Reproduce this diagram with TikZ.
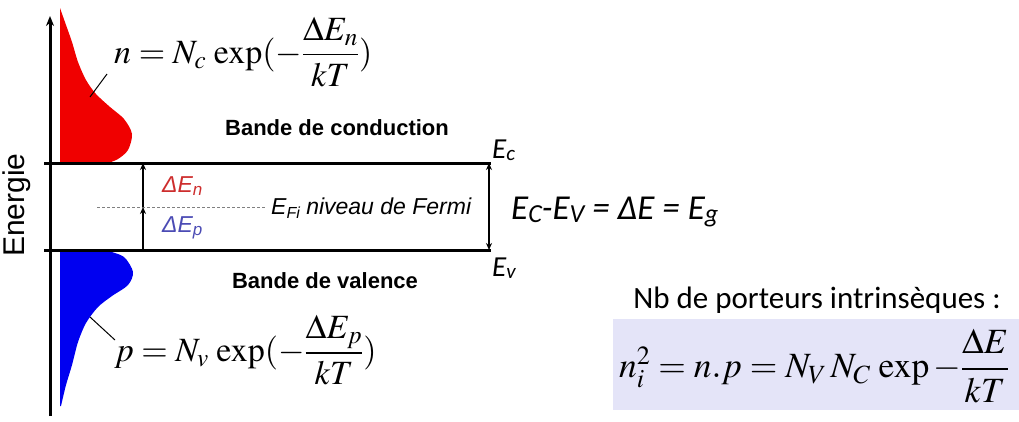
\documentclass[tikz,border=0pt]{standalone}
\usepackage{amsmath}
\usepackage{mathptmx}
\usepackage{fontspec}
\setmainfont{Liberation Serif}
\newfontfamily\arialf{Liberation Sans}
\newfontfamily\calibrif{Carlito}
\usetikzlibrary{arrows.meta}
\definecolor{redfill}{RGB}{240,0,0}
\definecolor{bluefill}{RGB}{0,0,240}
\definecolor{boxfill}{RGB}{228,228,248}
\definecolor{dered}{RGB}{205,45,45}
\definecolor{deblue}{RGB}{75,75,180}
\begin{document}
\begin{tikzpicture}[x=1pt,y=-1pt,
  thickline/.style={line width=3pt},
  arr/.style={line width=2pt,-{Stealth[length=7pt,width=6pt]}},
  darr/.style={line width=2pt,{Stealth[length=7pt,width=6pt]}-{Stealth[length=7pt,width=6pt]}},
  bandlbl/.style={font=\arialf\bfseries\fontsize{22}{26}\selectfont, inner sep=0pt},
  sanslbl/.style={font=\arialf\itshape\fontsize{23}{27}\selectfont, inner sep=0pt},
  callbl/.style={font=\calibrif\itshape\fontsize{29}{34}\selectfont, inner sep=0pt},
  eq/.style={font=\fontsize{34}{40}\selectfont, inner sep=0pt},
  pointer/.style={line width=1pt}]
\useasboundingbox (0,0) rectangle (1019,421);
% lavender box
\fill[boxfill] (613,319) rectangle (1019,410);
% distributions
\fill[redfill] plot[smooth] coordinates {(60,8) (66,25) (72,42) (78,62) (86,80) (96,94) (110,107) (124,119) (132,134) (128,150) (118,159) (108,163)} -- (60,163) -- cycle;
\fill[bluefill] plot[smooth] coordinates {(108,251) (124,257) (133,272) (128,285) (112,296) (98,307) (86,323) (78,342) (72,365) (66,385) (61,406)} -- (60,406) -- (60,251) -- cycle;
% axis
\coordinate (axb) at (50,416);
\coordinate (axt) at (50,16);
\draw[line width=3pt,-{Stealth[length=10pt,width=8pt]}] (axb) -- (axt);
% band edges
\coordinate (ecl) at (44,163); \coordinate (ecr) at (491,163);
\coordinate (evl) at (44,250); \coordinate (evr) at (491,250);
\draw[thickline] (ecl) -- (ecr);
\draw[thickline] (evl) -- (evr);
% Fermi level
\coordinate (fl) at (97,207); \coordinate (fr) at (266,207);
\draw[gray, line width=0.8pt, dash pattern=on 3pt off 2pt] (fl) -- (fr);
% small arrows
\coordinate (av) at (143,250); \coordinate (af) at (143,207); \coordinate (ac) at (143,163);
\draw[arr] (av) -- (af);
\draw[arr] (af) -- (ac);
% gap arrow
\coordinate (gt) at (489,163); \coordinate (gb) at (489,250);
\draw[darr] (gb) -- (gt);
% pointers
\coordinate (p1a) at (90,97); \coordinate (p1b) at (107,74);
\draw[pointer] (p1a) -- (p1b);
\coordinate (p2a) at (90,317); \coordinate (p2b) at (115,340);
\draw[pointer] (p2a) -- (p2b);
% labels
\node[rotate=90, font=\arialf\fontsize{30}{34}\selectfont, inner sep=0pt] (energie) at (17,205) {Energie};
\node[bandlbl] (bc) at (337,128) {Bande de conduction};
\node[bandlbl] (bv) at (325,281) {Bande de valence};
\node[sanslbl, text=dered, anchor=west] (den) at (162,186) {ΔE\raisebox{-3pt}{\fontsize{17}{20}\selectfont n}};
\node[sanslbl, text=deblue, anchor=west] (dep) at (162,228) {ΔE\raisebox{-3pt}{\fontsize{17}{20}\selectfont p}};
\node[sanslbl, anchor=west] (efi) at (271,208) {E\raisebox{-4pt}{\fontsize{16}{18}\selectfont Fi} niveau de Fermi};
\node[callbl, anchor=west] (ec) at (492,150) {E\raisebox{-2pt}{\fontsize{21}{24}\selectfont c}};
\node[callbl, anchor=west] (ev) at (492,268) {E\raisebox{-2pt}{\fontsize{21}{24}\selectfont v}};
\node[font=\calibrif\itshape\fontsize{35}{40}\selectfont, inner sep=0pt, anchor=west] (eg) at (511,212) {E\raisebox{-3pt}{\fontsize{26}{30}\selectfont C}-E\raisebox{-3pt}{\fontsize{26}{30}\selectfont V} = ΔE = E\raisebox{-3pt}{\fontsize{26}{30}\selectfont g}};
\node[font=\calibrif\fontsize{31}{36}\selectfont, inner sep=0pt] (nb) at (817,300) {Nb de porteurs intrinsèques :};
\node[eq, anchor=west] (nform) at (114,52) {$n = N_c\,\exp(-\dfrac{\Delta E_n}{kT})$};
\node[eq, anchor=west] (pform) at (114,350) {$p = N_v\,\exp(-\dfrac{\Delta E_p}{kT})$};
\node[font=\fontsize{35.5}{42}\selectfont, inner sep=0pt, anchor=west] (niform) at (619,366) {$n_i^2 = n.p = N_V\,N_C\,\exp{-}\dfrac{\Delta E}{kT}$};
\end{tikzpicture}
\end{document}
